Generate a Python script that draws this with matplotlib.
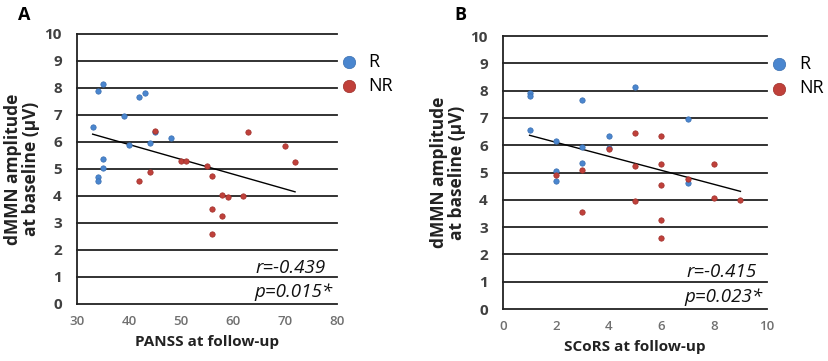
import matplotlib.pyplot as plt
import numpy as np

plt.rcParams["font.family"] = ["Open Sans", "DejaVu Sans"]

# panel A: PANSS at follow-up vs dMMN amplitude
panss_r = [33, 34, 35, 34, 34, 35, 35, 39, 40, 42, 43, 44, 45, 48]
dmmn_a_r = [6.55, 7.9, 8.15, 4.7, 4.55, 5.35, 5.05, 6.95, 5.9, 7.65, 7.8, 5.95, 6.35, 6.15]
panss_nr = [45, 42, 44, 50, 51, 55, 56, 58, 59, 62, 56, 58, 56, 63, 70, 72]
dmmn_a_nr = [6.42, 4.55, 4.9, 5.3, 5.3, 5.1, 4.75, 4.05, 3.95, 4.0, 3.5, 3.25, 2.6, 6.35, 5.85, 5.25]

# panel B: SCoRS at follow-up vs dMMN amplitude
scors_r = [1, 1, 1, 2, 2, 2, 3, 3, 3, 4, 4, 5, 7, 7]
dmmn_b_r = [7.9, 7.8, 6.55, 6.15, 5.05, 4.7, 7.65, 5.95, 5.35, 6.35, 5.9, 8.15, 6.95, 4.6]
scors_nr = [2, 3, 3, 4, 5, 5, 5, 6, 6, 6, 6, 6, 7, 8, 8, 9]
dmmn_b_nr = [4.9, 5.1, 3.55, 5.85, 6.45, 5.25, 3.95, 6.35, 5.3, 4.55, 3.25, 2.6, 4.75, 5.3, 4.05, 4.0]

stats_a = ["r=-0.439", "p=0.015*"]
stats_b = ["r=-0.415", "p=0.023*"]

blue = "#4a86cf"
red = "#c0403a"

fig = plt.figure(figsize=(8.29, 3.61), dpi=100)


def panel(ax, xr, yr, xnr, ynr, xlim, xticks, xlabel, stats, letter, lx):
    ax.scatter(xr, yr, s=15, color=blue, edgecolor="#3a6fb0", linewidth=0.5, zorder=3, label="R")
    ax.scatter(xnr, ynr, s=15, color=red, edgecolor="#9e2f2a", linewidth=0.5, zorder=3, label="NR")
    # linear trend over all points
    x = np.array(xr + xnr, dtype=float)
    y = np.array(yr + ynr, dtype=float)
    k, b = np.polyfit(x, y, 1)
    xx = np.array([x.min(), x.max()])
    ax.plot(xx, k * xx + b, color="black", lw=1.0, zorder=2)

    ax.set_xlim(xlim)
    ax.set_ylim(0, 10)
    ax.set_xticks(xticks)
    ax.set_yticks(range(0, 11))
    for v in range(0, 11):
        ax.axhline(v, color="#222222", lw=1.3, zorder=1, clip_on=False)
    for s in ["top", "right", "bottom"]:
        ax.spines[s].set_visible(False)
    ax.spines["left"].set_color("#222222")
    ax.spines["left"].set_linewidth(1.3)
    ax.tick_params(axis="y", length=0, pad=11)
    ax.tick_params(axis="x", length=0, pad=8)
    for t in ax.get_yticklabels():
        t.set_fontsize(11)
        t.set_color("#404040")
        t.set_fontweight("bold")
    for t in ax.get_xticklabels():
        t.set_fontsize(9.5)
        t.set_color("#707070")
        t.set_fontweight("semibold")
    ax.set_xlabel(xlabel, fontsize=11, fontweight="bold", color="#222222", labelpad=5)
    ax.set_ylabel("dMMN amplitude\nat baseline (\u00b5V)", fontsize=12.5, fontweight="bold",
                  color="#222222", labelpad=3, linespacing=1.05)
    ax.text(0.96, 0.135, stats[0], transform=ax.transAxes, ha="right", va="center",
            fontsize=13.5, style="italic", color="#111111")
    ax.text(0.985, 0.045, stats[1], transform=ax.transAxes, ha="right", va="center",
            fontsize=13.5, style="italic", color="#111111")
    ax.legend(loc="upper left", bbox_to_anchor=(0.95, 0.99), frameon=False, fontsize=13,
              markerscale=2.3, handletextpad=0.6, labelspacing=0.35, handlelength=1.0)
    fig.text(lx, 0.958, letter, fontsize=13, fontweight="bold", ha="left", va="center")


ax1 = fig.add_axes([0.093, 0.158, 0.313, 0.748])
panel(ax1, panss_r, dmmn_a_r, panss_nr, dmmn_a_nr, (30, 80), range(30, 81, 10),
      "PANSS at follow-up", stats_a, "A", 0.022)

ax2 = fig.add_axes([0.607, 0.144, 0.318, 0.756])
panel(ax2, scors_r, dmmn_b_r, scors_nr, dmmn_b_nr, (0, 10), range(0, 11, 2),
      "SCoRS at follow-up", stats_b, "B", 0.548)

plt.savefig("out.png", dpi=100)
